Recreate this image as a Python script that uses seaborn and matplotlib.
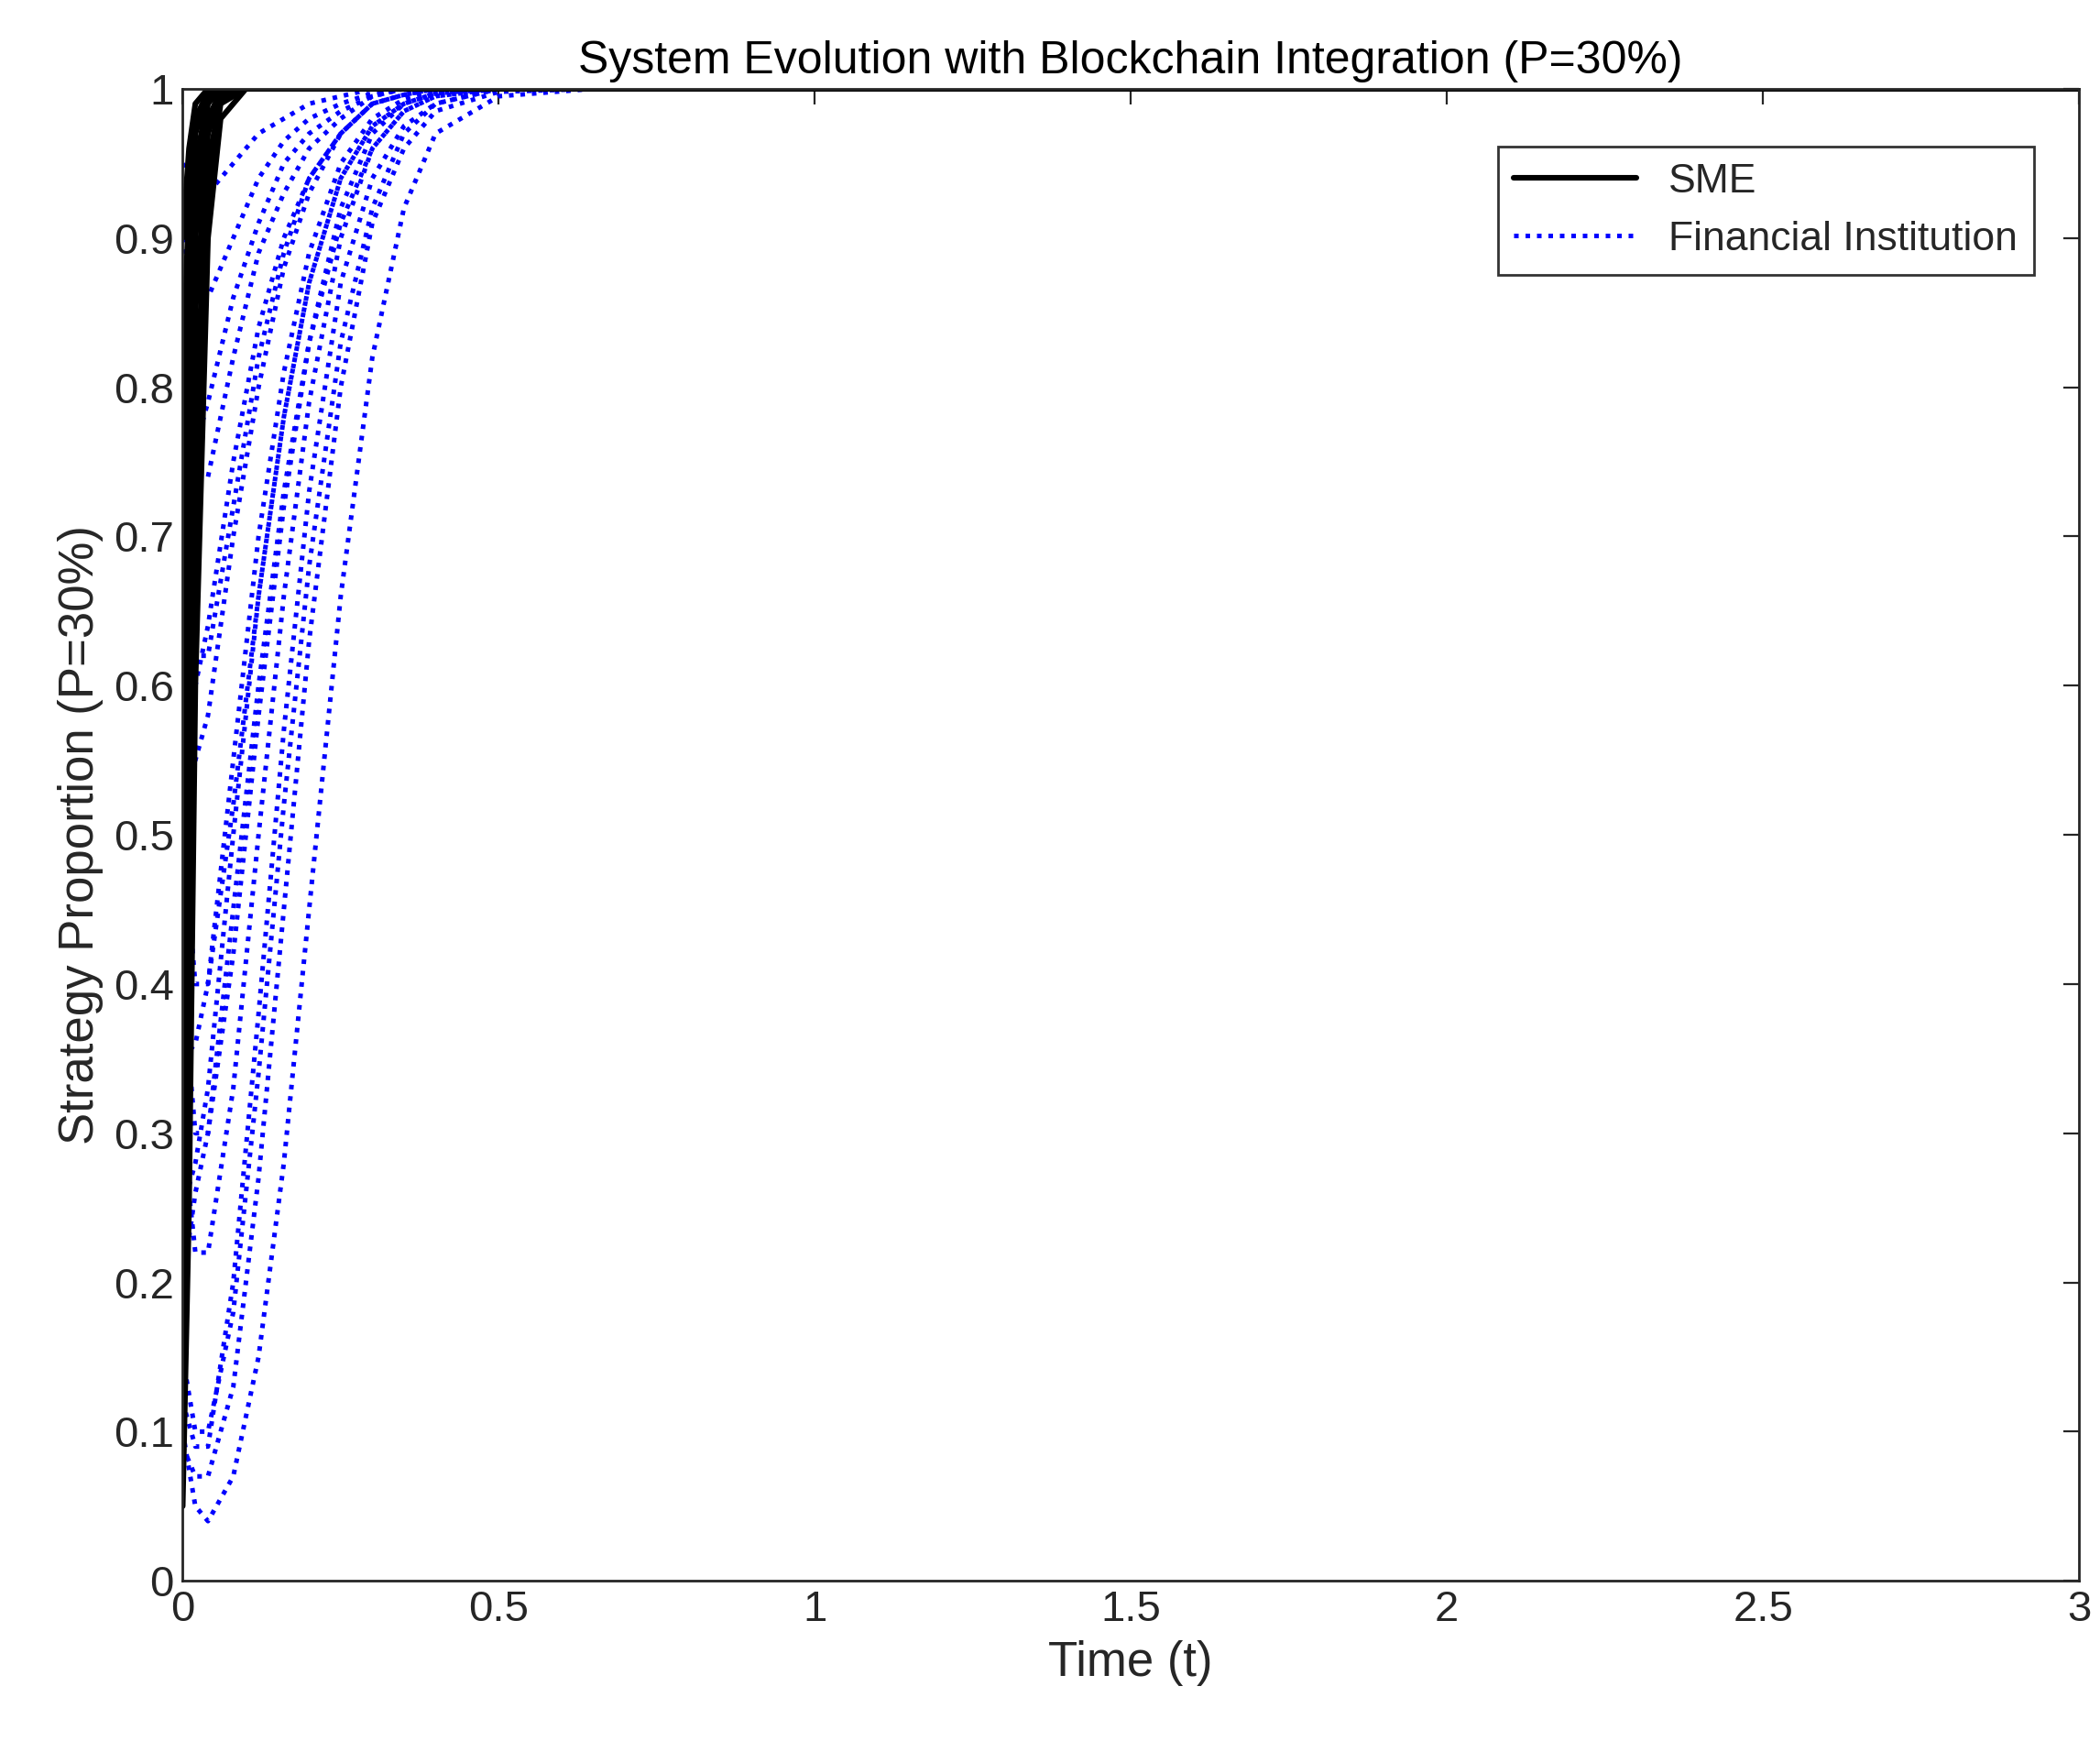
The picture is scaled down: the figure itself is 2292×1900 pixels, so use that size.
import numpy as np
import pandas as pd
import matplotlib
matplotlib.use("Agg")
import matplotlib.pyplot as plt
import seaborn as sns
from matplotlib.ticker import FormatStrFormatter
from matplotlib.lines import Line2D

# Financial institution trajectories
fi_t = [0, 0.02, 0.04, 0.08, 0.12, 0.16, 0.2, 0.25, 0.3, 0.35, 0.4, 0.5, 0.65, 3]
fi_curves = [
    [0.10, 0.05, 0.04, 0.07, 0.15, 0.28, 0.45, 0.66, 0.82, 0.92, 0.97, 0.995, 1, 1],
    [0.09, 0.07, 0.07, 0.13, 0.27, 0.45, 0.63, 0.80, 0.91, 0.96, 0.985, 0.998, 1, 1],
    [0.12, 0.09, 0.09, 0.20, 0.38, 0.57, 0.73, 0.87, 0.94, 0.975, 0.99, 1, 1, 1],
    [0.15, 0.10, 0.10, 0.18, 0.34, 0.52, 0.68, 0.83, 0.92, 0.97, 0.99, 1, 1, 1],
    [0.20, 0.26, 0.30, 0.45, 0.60, 0.73, 0.83, 0.91, 0.96, 0.985, 0.995, 1, 1, 1],
    [0.25, 0.28, 0.33, 0.50, 0.66, 0.78, 0.87, 0.94, 0.975, 0.99, 0.997, 1, 1, 1],
    [0.30, 0.22, 0.22, 0.33, 0.50, 0.66, 0.79, 0.90, 0.96, 0.985, 0.995, 1, 1, 1],
    [0.35, 0.36, 0.40, 0.55, 0.70, 0.81, 0.89, 0.95, 0.98, 0.993, 1, 1, 1, 1],
    [0.40, 0.30, 0.30, 0.42, 0.58, 0.72, 0.83, 0.92, 0.97, 0.99, 0.997, 1, 1, 1],
    [0.50, 0.40, 0.40, 0.52, 0.66, 0.78, 0.87, 0.94, 0.975, 0.99, 0.997, 1, 1, 1],
    [0.55, 0.55, 0.58, 0.70, 0.80, 0.88, 0.93, 0.97, 0.99, 0.996, 1, 1, 1, 1],
    [0.60, 0.60, 0.64, 0.75, 0.84, 0.90, 0.94, 0.97, 0.99, 0.996, 1, 1, 1, 1],
    [0.70, 0.62, 0.62, 0.72, 0.82, 0.89, 0.94, 0.97, 0.99, 0.996, 1, 1, 1, 1],
    [0.75, 0.76, 0.79, 0.86, 0.91, 0.95, 0.97, 0.985, 0.995, 1, 1, 1, 1, 1],
    [0.80, 0.74, 0.74, 0.82, 0.89, 0.93, 0.96, 0.98, 0.995, 1, 1, 1, 1, 1],
    [0.90, 0.86, 0.86, 0.90, 0.94, 0.965, 0.98, 0.99, 0.997, 1, 1, 1, 1, 1],
    [0.95, 0.93, 0.93, 0.95, 0.97, 0.98, 0.99, 0.995, 1, 1, 1, 1, 1, 1],
]

# SME trajectories
sme_t = [0, 0.01, 0.02, 0.04, 0.06, 0.1, 3]
sme_curves = [
    [0.05, 0.25, 0.60, 0.90, 0.98, 1, 1],
    [0.10, 0.35, 0.70, 0.93, 0.99, 1, 1],
    [0.20, 0.48, 0.78, 0.95, 0.993, 1, 1],
    [0.30, 0.60, 0.85, 0.97, 0.995, 1, 1],
    [0.40, 0.70, 0.90, 0.98, 0.998, 1, 1],
    [0.50, 0.78, 0.93, 0.99, 1, 1, 1],
    [0.60, 0.84, 0.95, 0.993, 1, 1, 1],
    [0.70, 0.88, 0.97, 0.995, 1, 1, 1],
    [0.80, 0.93, 0.98, 0.998, 1, 1, 1],
    [0.90, 0.96, 0.99, 1, 1, 1, 1],
]

rows = []
for i, c in enumerate(sme_curves):
    for t, v in zip(sme_t, c):
        rows.append(("SME", f"s{i}", t, v))
for i, c in enumerate(fi_curves):
    for t, v in zip(fi_t, c):
        rows.append(("Financial Institution", f"f{i}", t, v))
df = pd.DataFrame(rows, columns=["group", "unit", "t", "y"])

sns.set_style("white")
plt.rcParams["font.family"] = ["Liberation Sans", "DejaVu Sans"]

fig = plt.figure(figsize=(11.46, 9.5), dpi=200)
ax = fig.add_axes([0.087, 0.092, 0.903, 0.857])

sns.lineplot(data=df[df.group == "Financial Institution"], x="t", y="y", units="unit",
             estimator=None, color="blue", linestyle=(0, (1, 1.5)), linewidth=1.8, ax=ax)
sns.lineplot(data=df[df.group == "SME"], x="t", y="y", units="unit",
             estimator=None, color="black", linestyle="-", linewidth=2.2, ax=ax)

handles = [Line2D([], [], color="black", lw=2.2),
           Line2D([], [], color="blue", lw=1.8, linestyle=(0, (1, 1.5)))]
leg = ax.legend(handles, ["SME", "Financial Institution"], loc="upper right",
                fontsize=16, frameon=True, fancybox=False, edgecolor="black",
                bbox_to_anchor=(0.987, 0.975), handlelength=3)
leg.get_frame().set_linewidth(1.0)

ax.set_xlim(0, 3)
ax.set_ylim(0, 1)
ax.set_xticks(np.arange(0, 3.01, 0.5))
ax.set_yticks(np.arange(0, 1.01, 0.1))
ax.xaxis.set_major_formatter(FormatStrFormatter("%g"))
ax.yaxis.set_major_formatter(FormatStrFormatter("%g"))
ax.tick_params(direction="in", length=6, labelsize=17, top=True, right=True,
               colors="#262626")
for s in ax.spines.values():
    s.set_color("#262626")
    s.set_linewidth(1.0)
ax.set_xlabel("Time (t)", fontsize=19, color="#262626")
ax.set_ylabel("Strategy Proportion (P=30%)", fontsize=19, color="#262626")
ax.set_title("System Evolution with Blockchain Integration (P=30%)", fontsize=18,
             color="black", pad=6)

fig.savefig("out.png", dpi=200)
